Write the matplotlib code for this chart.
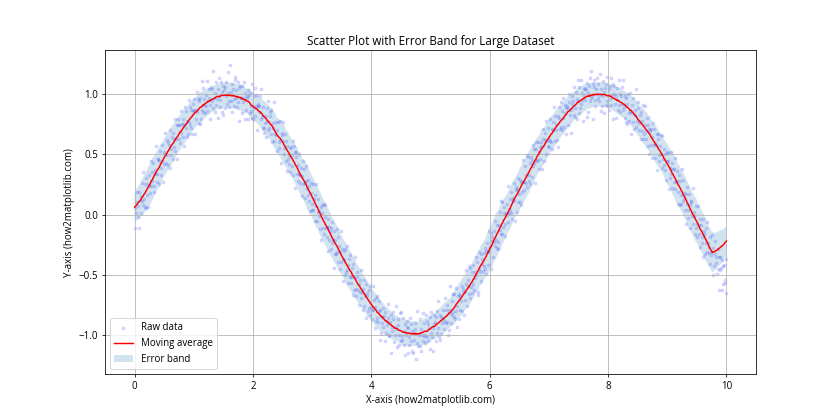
import numpy as np
import pandas as pd
import matplotlib
matplotlib.use("Agg")
import matplotlib.pyplot as plt

plt.rcParams['font.family'] = ['Open Sans', 'DejaVu Sans']

x_start, x_end = 0, 10
window = 50

y_values = [
    0.05, -0.11, 0.10, 0.01, 0.19, -0.02, 0.07, -0.11, 0.19, 0.12,
    0.01, 0.15, 0.11, 0.26, 0.08, 0.35, 0.13, 0.06, 0.25, 0.05,
    0.30, 0.16, 0.06, 0.25, 0.33, 0.24, 0.18, 0.44, 0.24, 0.35,
    0.28, 0.43, 0.24, 0.19, 0.37, 0.34, 0.57, 0.27, 0.34, 0.46,
    0.46, 0.25, 0.44, 0.53, 0.33, 0.39, 0.58, 0.44, 0.27, 0.52,
    0.42, 0.50, 0.68, 0.43, 0.49, 0.62, 0.41, 0.60, 0.58, 0.39,
    0.70, 0.54, 0.49, 0.64, 0.46, 0.68, 0.63, 0.56, 0.79, 0.53,
    0.63, 0.74, 0.46, 0.74, 0.79, 0.63, 0.59, 0.74, 0.68, 0.86,
    0.75, 0.64, 0.79, 0.57, 0.75, 0.89, 0.72, 0.86, 0.64, 0.78,
    0.67, 0.95, 0.77, 0.74, 0.89, 0.72, 0.87, 0.67, 0.92, 0.86,
    0.87, 0.96, 0.67, 0.87, 0.79, 1.02, 0.85, 0.96, 0.76, 0.94,
    0.75, 0.97, 0.79, 0.87, 1.11, 0.85, 1.05, 0.91, 0.96, 0.84,
    0.99, 0.90, 1.11, 0.86, 0.94, 1.04, 0.97, 0.79, 0.91, 1.06,
    1.04, 0.94, 0.88, 1.19, 0.97, 1.01, 0.85, 0.91, 1.10, 0.96,
    1.04, 0.80, 0.98, 1.13, 0.95, 0.89, 1.10, 1.02, 0.85, 1.07,
    0.83, 1.03, 1.06, 0.88, 1.10, 0.98, 0.92, 1.18, 1.01, 0.94,
    0.89, 1.24, 0.94, 1.02, 1.08, 0.85, 1.04, 0.90, 0.96, 1.12,
    1.14, 0.97, 1.03, 0.89, 0.93, 1.10, 1.05, 0.78, 1.07, 0.97,
    0.97, 0.84, 1.07, 0.93, 1.10, 0.97, 0.79, 1.01, 0.87, 0.98,
    0.97, 1.03, 0.79, 0.99, 0.84, 1.01, 0.86, 0.90, 1.08, 0.80,
    0.79, 0.98, 0.88, 1.05, 0.82, 0.90, 0.70, 0.99, 0.90, 0.92,
    0.90, 0.85, 0.98, 0.79, 1.04, 0.81, 0.72, 0.89, 0.68, 0.72,
    0.76, 0.64, 0.82, 0.88, 0.77, 0.70, 0.94, 0.72, 0.82, 0.85,
    0.87, 0.67, 0.60, 0.76, 0.72, 0.93, 0.61, 0.67, 0.77, 0.66,
    0.53, 0.70, 0.77, 0.55, 0.60, 0.78, 0.62, 0.43, 0.66, 0.68,
    0.61, 0.77, 0.50, 0.55, 0.67, 0.44, 0.61, 0.57, 0.36, 0.46,
    0.49, 0.42, 0.55, 0.35, 0.56, 0.49, 0.40, 0.61, 0.33, 0.57,
    0.52, 0.22, 0.48, 0.52, 0.34, 0.28, 0.41, 0.34, 0.50, 0.33,
    0.26, 0.39, 0.15, 0.32, 0.44, 0.25, 0.38, 0.14, 0.26, 0.28,
    0.40, 0.21, 0.16, 0.29, 0.11, 0.24, 0.03, 0.26, 0.18, 0.04,
    0.09, 0.25, 0.04, 0.13, -0.05, 0.16, 0.07, 0.25, -0.05, 0.02,
    0.13, -0.01, 0.03, -0.12, 0.06, -0.21, 0.01, 0.08, -0.11, 0.09,
    -0.16, -0.02, 0.08, -0.11, -0.19, -0.10, -0.04, -0.30, -0.10, -0.21,
    -0.14, -0.29, -0.11, -0.06, -0.24, -0.21, -0.44, -0.14, -0.21, -0.33,
    -0.33, -0.12, -0.31, -0.39, -0.19, -0.26, -0.45, -0.31, -0.14, -0.39,
    -0.29, -0.37, -0.55, -0.30, -0.38, -0.50, -0.29, -0.48, -0.46, -0.26,
    -0.57, -0.42, -0.37, -0.52, -0.34, -0.57, -0.52, -0.44, -0.67, -0.41,
    -0.52, -0.63, -0.35, -0.62, -0.68, -0.52, -0.48, -0.63, -0.58, -0.75,
    -0.64, -0.54, -0.69, -0.46, -0.65, -0.79, -0.62, -0.76, -0.54, -0.68,
    -0.58, -0.86, -0.68, -0.65, -0.80, -0.63, -0.78, -0.59, -0.83, -0.77,
    -0.79, -0.87, -0.59, -0.79, -0.71, -0.94, -0.77, -0.88, -0.69, -0.86,
    -0.68, -0.89, -0.72, -0.80, -1.04, -0.79, -0.98, -0.85, -0.90, -0.78,
    -0.93, -0.84, -1.05, -0.81, -0.88, -0.98, -0.92, -0.74, -0.86, -1.01,
    -1.00, -0.89, -0.83, -1.15, -0.93, -0.97, -0.81, -0.87, -1.06, -0.93,
    -1.00, -0.76, -0.95, -1.10, -0.92, -0.87, -1.08, -1.00, -0.82, -1.05,
    -0.81, -1.01, -1.04, -0.86, -1.08, -0.97, -0.91, -1.17, -1.00, -0.93,
    -0.88, -1.15, -0.94, -1.02, -1.08, -0.86, -1.05, -0.91, -0.97, -1.13,
    -1.15, -0.98, -1.04, -0.90, -0.95, -1.20, -1.07, -0.80, -1.09, -0.99,
    -1.00, -0.87, -1.09, -0.95, -1.13, -1.00, -0.82, -1.05, -0.90, -1.01,
    -1.00, -1.07, -0.83, -1.02, -0.88, -1.05, -0.91, -0.94, -1.12, -0.85,
    -0.98, -0.81, -1.02, -0.94, -1.13, -0.83, -0.91, -0.89, -1.05, -0.85,
    -0.80, -0.98, -0.72, -0.94, -1.02, -0.83, -1.04, -0.99, -0.85, -0.90,
    -0.86, -0.79, -0.88, -0.95, -0.69, -0.90, -0.79, -0.75, -0.89, -1.00,
    -0.96, -0.79, -0.82, -0.59, -0.90, -0.83, -0.72, -0.81, -0.66, -0.85,
    -0.66, -0.87, -0.80, -0.61, -0.76, -0.93, -0.68, -0.66, -0.87, -0.68,
    -0.79, -0.72, -0.59, -0.80, -0.62, -0.64, -0.83, -0.71, -0.64, -0.46,
    -0.58, -0.76, -0.54, -0.59, -0.66, -0.43, -0.69, -0.44, -0.60, -0.65,
    -0.48, -0.42, -0.58, -0.63, -0.48, -0.53, -0.35, -0.50, -0.39, -0.67,
    -0.64, -0.45, -0.31, -0.48, -0.33, -0.55, -0.41, -0.37, -0.47, -0.32,
    -0.43, -0.28, -0.45, -0.30, -0.49, -0.24, -0.30, -0.42, -0.14, -0.31,
    -0.27, -0.45, -0.15, -0.22, -0.19, -0.35, -0.14, -0.23, -0.05, -0.26,
    -0.21, -0.28, -0.09, -0.29, -0.23, -0.09, -0.13, 0.02, -0.16, 0.11,
    -0.16, 0.10, -0.10, 0.01, 0.06, -0.08, -0.18, 0.01, 0.09, 0.00,
    0.24, -0.06, 0.01, 0.13, 0.04, 0.19, 0.01, -0.04, 0.14, 0.11,
    0.26, 0.12, -0.05, 0.20, 0.23, 0.02, 0.21, 0.30, 0.10, 0.17,
    0.10, 0.29, 0.27, 0.08, 0.19, 0.27, 0.45, 0.20, 0.27, 0.40,
    0.33, 0.26, 0.49, 0.23, 0.48, 0.33, 0.28, 0.43, 0.25, 0.48,
    0.31, 0.45, 0.40, 0.58, 0.43, 0.54, 0.26, 0.54, 0.60, 0.44,
    0.45, 0.60, 0.38, 0.52, 0.56, 0.46, 0.60, 0.38, 0.57, 0.71,
    0.63, 0.44, 0.68, 0.62, 0.50, 0.78, 0.61, 0.57, 0.72, 0.56,
    0.63, 0.61, 0.79, 0.60, 0.71, 0.54, 0.77, 0.70, 0.89, 0.61,
    0.82, 0.70, 0.75, 0.62, 0.82, 0.56, 0.80, 0.89, 0.71, 0.93,
    0.73, 0.70, 0.86, 0.97, 0.80, 0.73, 0.84, 0.91, 0.67, 0.88,
    0.90, 0.88, 0.74, 0.93, 1.00, 0.83, 0.87, 0.68, 0.98, 0.92,
    0.94, 0.83, 1.06, 0.88, 0.81, 1.02, 0.96, 0.79, 0.94, 1.12,
    0.84, 1.06, 0.88, 0.92, 1.12, 1.01, 0.95, 0.78, 1.04, 0.99,
    1.05, 0.95, 1.03, 0.81, 1.09, 0.85, 1.01, 1.07, 0.94, 1.13,
    0.97, 1.19, 0.98, 1.08, 0.79, 1.06, 1.12, 0.95, 0.90, 1.04,
    1.13, 1.00, 0.97, 1.08, 0.94, 1.17, 0.99, 0.86, 1.04, 0.90,
    0.98, 1.11, 0.84, 1.02, 1.05, 0.91, 1.08, 0.94, 1.14, 0.90,
    1.04, 0.87, 1.07, 0.96, 1.13, 0.91, 0.99, 0.79, 1.08, 1.00,
    1.07, 0.92, 0.80, 0.98, 1.05, 0.95, 0.87, 1.12, 0.91, 1.00,
    0.85, 0.98, 0.92, 1.06, 0.87, 1.12, 0.89, 0.80, 0.98, 0.77,
    0.97, 0.75, 0.92, 1.00, 0.78, 0.84, 1.01, 0.86, 0.67, 0.91,
    0.84, 0.97, 0.77, 0.71, 0.87, 0.83, 1.04, 0.73, 0.78, 0.88,
    0.93, 0.76, 0.70, 0.83, 0.63, 0.85, 0.78, 0.69, 0.91, 0.63,
    0.67, 0.74, 0.90, 0.63, 0.69, 0.80, 0.57, 0.74, 0.71, 0.50,
    0.69, 0.58, 0.71, 0.47, 0.64, 0.76, 0.58, 0.71, 0.47, 0.59,
    0.58, 0.67, 0.37, 0.63, 0.67, 0.49, 0.44, 0.57, 0.50, 0.66,
    0.39, 0.65, 0.46, 0.41, 0.54, 0.37, 0.50, 0.29, 0.52, 0.44,
    0.44, 0.51, 0.21, 0.39, 0.30, 0.52, 0.34, 0.43, 0.22, 0.38,
    0.38, 0.27, 0.47, 0.21, 0.27, 0.36, 0.28, 0.09, 0.19, 0.33,
    0.08, 0.28, 0.09, 0.16, 0.38, 0.11, 0.29, 0.14, 0.18, 0.04,
    0.17, -0.08, 0.09, 0.23, 0.04, -0.03, 0.17, 0.08, -0.11, 0.10,
    0.11, -0.01, -0.08, 0.22, -0.01, 0.02, -0.16, -0.11, 0.07, -0.08,
    -0.19, 0.07, -0.16, -0.09, -0.04, -0.27, -0.09, -0.24, -0.19, -0.04,
    -0.35, -0.16, -0.14, -0.33, -0.11, -0.24, -0.31, -0.06, -0.24, -0.32,
    -0.27, -0.41, -0.19, -0.34, -0.17, -0.31, -0.50, -0.28, -0.43, -0.33,
    -0.22, -0.40, -0.35, -0.49, -0.45, -0.29, -0.35, -0.63, -0.35, -0.46,
    -0.44, -0.38, -0.63, -0.43, -0.58, -0.42, -0.57, -0.54, -0.37, -0.65,
]

y = np.array(y_values)
x = np.linspace(x_start, x_end, len(y))

y_smooth = np.convolve(y, np.ones(window) / window, mode='same')
y_std = pd.Series(y).rolling(window, center=True, min_periods=1).std().to_numpy()

fig = plt.figure(figsize=(12, 6), dpi=70)
ax = fig.add_subplot(111)
ax.scatter(x, y, alpha=0.13, s=8, color='blue', label='Raw data')
ax.plot(x, y_smooth, 'r-', label='Moving average')
ax.fill_between(x, y_smooth - y_std, y_smooth + y_std, alpha=0.2, label='Error band')
ax.set_title('Scatter Plot with Error Band for Large Dataset')
ax.set_xlabel('X-axis (how2matplotlib.com)')
ax.set_ylabel('Y-axis (how2matplotlib.com)')
ax.legend(loc='lower left')
ax.grid(True)
fig.savefig('out.png', dpi=70)
